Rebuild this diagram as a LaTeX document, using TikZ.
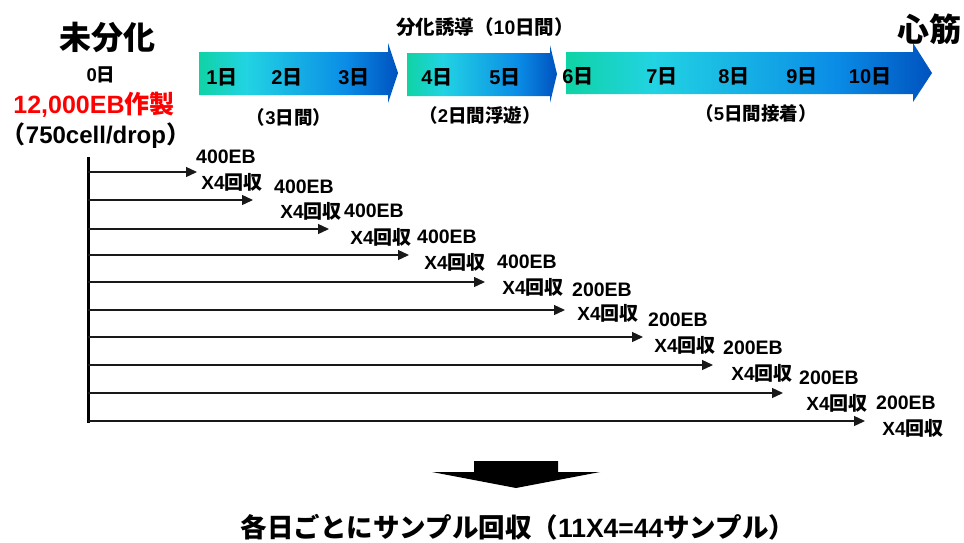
\documentclass[tikz,border=0pt]{standalone}
\usepackage{fontspec}
\setmainfont{Liberation Sans}
\newfontfamily\jp{Noto Sans CJK JP}
\newcommand\J[1]{{\jp #1}}
\usetikzlibrary{arrows.meta}
\definecolor{gA}{RGB}{15,211,165}
\definecolor{gB}{RGB}{34,211,227}
\definecolor{gD}{RGB}{10,140,230}
\definecolor{gC}{RGB}{0,82,190}
\definecolor{redtxt}{RGB}{255,0,0}
\pgfdeclarehorizontalshading{daygrad}{100bp}{color(0bp)=(gA); color(25bp)=(gA); color(37bp)=(gB); color(62bp)=(gD); color(75bp)=(gC); color(100bp)=(gC)}
\tikzset{
  txt/.style={inner sep=0pt, font=\bfseries\fontsize{#1}{#1}\selectfont},
  conn/.style={line width=1.3pt, draw=black!90, -{Triangle[length=11pt,width=10pt]}},
  dayarrow/.style={shading=daygrad}
}
\begin{document}
\begin{tikzpicture}[x=1pt,y=-1pt]
\useasboundingbox (0,0) rectangle (964,542);

% top day arrows
\shade[dayarrow] (199,52) -- (388,52) -- (388,43) -- (398,73) -- (388,103) -- (388,95) -- (199,95) -- cycle;
\shade[dayarrow] (407,53) -- (550,53) -- (550,45) -- (557,74) -- (550,103) -- (550,96) -- (407,96) -- cycle;
\shade[dayarrow] (566,52) -- (913,52) -- (913,43) -- (932,73) -- (913,102) -- (913,94) -- (566,94) -- cycle;

% left texts
\node[txt=32] (undiff) at (107,37) {\J{未分化}};
\node[txt=18.5] (day0) at (101,75) {0\J{日}};
\node[txt=25, text=redtxt] (make) at (94,105) {12,000EB\J{作製}};
\node[txt=24] (cell) at (96,136) {\J{（}750cell/drop\J{）}};

% top texts
\node[txt=19.5] (induce) at (485,27) {\J{分化誘導（}10\J{日間）}};
\node[txt=32] (heart) at (929,29) {\J{心筋}};
\foreach \n/\x/\y in {1/222/77, 2/287/77, 3/354/77, 4/437/77, 5/505/77, 6/578/76, 7/662/76, 8/734/76, 9/802/76, 10/870/76}
  \node[txt=20] (day\n) at (\x,\y) {\n\J{日}};
\node[txt=18.5] (p3) at (289,117) {\J{（}3\J{日間）}};
\node[txt=18.5] (p2) at (480,115) {\J{（}2\J{日間浮遊）}};
\node[txt=18.5] (p5) at (756,113) {\J{（}5\J{日間接着）}};

% timeline
\coordinate (vtop) at (88,157);
\coordinate (vbot) at (88,423);
\draw[line width=3pt] (vtop) -- (vbot);
\foreach \y/\t [count=\i] in {172/197, 200/253, 229/329, 255/409, 282/485, 310/565, 337/643, 365/713, 393/783, 421/865} {
  \coordinate (s\i) at (88,\y);
  \coordinate (t\i) at (\t,\y);
  \draw[conn] (s\i) -- (t\i);
}

% EB labels
\foreach \x/\y/\v [count=\i] in {226/157/400, 304/187/400, 374/211/400, 447/237/400, 527/262/400, 602/290/200, 678/320/200, 753/348/200, 829/378/200, 906/403/200}
  \node[txt=19.5] (eb\i) at (\x,\y) {\v EB};
% collection labels
\foreach \x/\y [count=\i] in {232/182, 311/211, 381/237, 455/262, 533/287, 608/313, 685/345, 762/373, 837/403, 913/428}
  \node[txt=19] (col\i) at (\x,\y) {X4\J{回収}};

% bottom arrow
\fill[black] (474,461) -- (558,461) -- (558,472) -- (600,472) -- (516,488) -- (432,472) -- (474,472) -- cycle;

\node[txt=26.5] (summary) at (518,527) {\J{各日ごとにサンプル回収（}11X4=44\J{サンプル）}};
\end{tikzpicture}
\end{document}
